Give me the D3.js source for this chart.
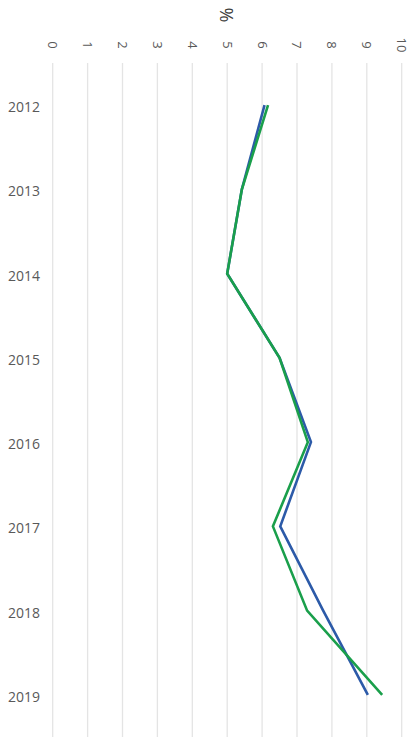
<!DOCTYPE html>
<meta charset="utf-8">
<style>
body {
  margin: 0;
  background: #fff;
  font-family: 'Open Sans', sans-serif;
}
.grid line {
  stroke: #e4e4e4;
  stroke-width: 1.3px;
}
.tick-x text {
  font-size: 13px;
  fill: #595959;
}
.tick-y text {
  font-size: 14px;
  fill: #595959;
}
</style>
<svg width="414" height="753"></svg>
<script src="https://d3js.org/d3.v7.min.js"></script>
<script>
var years = ["2012", "2013", "2014", "2015", "2016", "2017", "2018", "2019"];
var blueValues = [6.07, 5.42, 5.0, 6.5, 7.4, 6.52, 7.75, 9.03];
var greenValues = [6.17, 5.42, 5.0, 6.5, 7.31, 6.31, 7.29, 9.44];
var xTicks = [0, 1, 2, 3, 4, 5, 6, 7, 8, 9, 10];

var svg = d3.select("svg");

var x = d3.scaleLinear().domain([0, 10]).range([52.7, 401.7]);
var y = d3.scaleBand().domain(years).range([63, 737]).padding(0);

// vertical gridlines
svg.append("g")
    .attr("class", "grid")
  .selectAll("line")
  .data(xTicks)
  .enter().append("line")
    .attr("x1", function(d) { return x(d); })
    .attr("x2", function(d) { return x(d); })
    .attr("y1", y.range()[0])
    .attr("y2", y.range()[1]);

// value labels, turned a quarter clockwise
svg.append("g")
    .attr("class", "tick-x")
  .selectAll("text")
  .data(xTicks)
  .enter().append("text")
    .attr("transform", function(d) { return "translate(" + x(d) + ",45) rotate(90)"; })
    .attr("text-anchor", "middle")
    .attr("dy", "0.35em")
    .text(function(d) { return d; });

svg.append("text")
    .attr("transform", "translate(" + (x(5) - 1) + ",15) rotate(90)")
    .attr("text-anchor", "middle")
    .attr("dy", "0.35em")
    .attr("font-size", "18px")
    .attr("fill", "#404040")
    .text("%");

// year labels
svg.append("g")
    .attr("class", "tick-y")
  .selectAll("text")
  .data(years)
  .enter().append("text")
    .attr("x", 40)
    .attr("y", function(d) { return y(d) + y.bandwidth() / 2 + 2; })
    .attr("text-anchor", "end")
    .attr("dy", "0.35em")
    .text(function(d) { return d; });

var line = d3.line()
    .x(function(d) { return x(d); })
    .y(function(d, i) { return y(years[i]) + y.bandwidth() / 2; });

svg.append("path")
    .datum(blueValues)
    .attr("fill", "none")
    .attr("stroke", "#2c5aa8")
    .attr("stroke-width", 2.6)
    .attr("d", line);

svg.append("path")
    .datum(greenValues)
    .attr("fill", "none")
    .attr("stroke", "#1a9f4b")
    .attr("stroke-width", 2.6)
    .attr("d", line);
</script>
